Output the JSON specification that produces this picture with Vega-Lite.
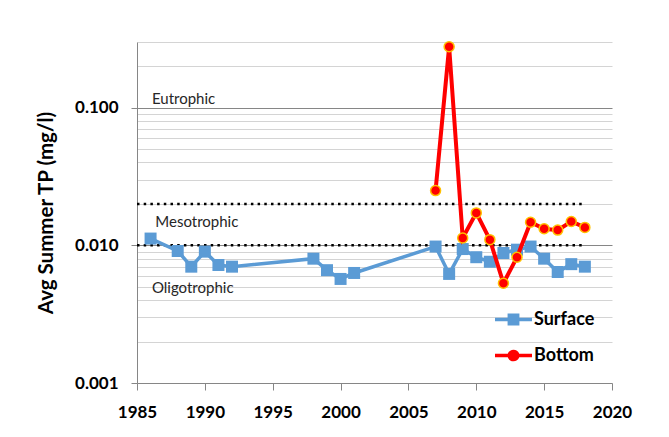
{
  "$schema": "https://vega.github.io/schema/vega-lite/v6.json",
  "width": 475,
  "height": 341,
  "autosize": {"type": "none"},
  "padding": {"left": 137, "top": 42, "right": 57, "bottom": 54},
  "background": "white",
  "config": {"view": {"stroke": null}, "font": "Lato"},
  "datasets": {
    "tp": [
      {"year": 1986, "tp": 0.0112, "series": "Surface"},
      {"year": 1988, "tp": 0.0091, "series": "Surface"},
      {"year": 1989, "tp": 0.0070, "series": "Surface"},
      {"year": 1990, "tp": 0.0090, "series": "Surface"},
      {"year": 1991, "tp": 0.0072, "series": "Surface"},
      {"year": 1992, "tp": 0.0070, "series": "Surface"},
      {"year": 1998, "tp": 0.0080, "series": "Surface"},
      {"year": 1999, "tp": 0.0066, "series": "Surface"},
      {"year": 2000, "tp": 0.0057, "series": "Surface"},
      {"year": 2001, "tp": 0.0063, "series": "Surface"},
      {"year": 2007, "tp": 0.0098, "series": "Surface"},
      {"year": 2008, "tp": 0.0062, "series": "Surface"},
      {"year": 2009, "tp": 0.0094, "series": "Surface"},
      {"year": 2010, "tp": 0.0082, "series": "Surface"},
      {"year": 2011, "tp": 0.0076, "series": "Surface"},
      {"year": 2012, "tp": 0.0088, "series": "Surface"},
      {"year": 2013, "tp": 0.0093, "series": "Surface"},
      {"year": 2014, "tp": 0.0098, "series": "Surface"},
      {"year": 2015, "tp": 0.0080, "series": "Surface"},
      {"year": 2016, "tp": 0.0064, "series": "Surface"},
      {"year": 2017, "tp": 0.0073, "series": "Surface"},
      {"year": 2018, "tp": 0.0070, "series": "Surface"},
      {"year": 2007, "tp": 0.0250, "series": "Bottom"},
      {"year": 2008, "tp": 0.2770, "series": "Bottom"},
      {"year": 2009, "tp": 0.0113, "series": "Bottom"},
      {"year": 2010, "tp": 0.0172, "series": "Bottom"},
      {"year": 2011, "tp": 0.0110, "series": "Bottom"},
      {"year": 2012, "tp": 0.0053, "series": "Bottom"},
      {"year": 2013, "tp": 0.0082, "series": "Bottom"},
      {"year": 2014, "tp": 0.0147, "series": "Bottom"},
      {"year": 2015, "tp": 0.0132, "series": "Bottom"},
      {"year": 2016, "tp": 0.0129, "series": "Bottom"},
      {"year": 2017, "tp": 0.0149, "series": "Bottom"},
      {"year": 2018, "tp": 0.0135, "series": "Bottom"}
    ],
    "bounds": [
      {"year": 1985, "year2": 2018, "tp": 0.02},
      {"year": 1985, "year2": 2018, "tp": 0.01}
    ],
    "labels": [
      {"year": 1986.1, "tp": 0.1149, "text": "Eutrophic"},
      {"year": 1986.35, "tp": 0.01487, "text": "Mesotrophic"},
      {"year": 1986.1, "tp": 0.00493, "text": "Oligotrophic"}
    ]
  },
  "encoding": {
    "x": {
      "field": "year",
      "type": "quantitative",
      "scale": {"domain": [1985, 2020], "nice": false, "zero": false},
      "axis": {
        "values": [1985, 1990, 1995, 2000, 2005, 2010, 2015, 2020],
        "format": "d",
        "grid": false,
        "title": null,
        "domainColor": "#868686",
        "domainWidth": 1,
        "tickColor": "#868686",
        "tickSize": 7,
        "labelFont": "Lato",
        "labelFontWeight": "bold",
        "labelFontSize": 17,
        "labelColor": "#000000",
        "labelPadding": 14,
        "labelFlush": false
      }
    },
    "y": {
      "field": "tp",
      "type": "quantitative",
      "scale": {"type": "log", "domain": [0.001, 0.3], "nice": false},
      "axis": {
        "values": [0.001, 0.002, 0.003, 0.004, 0.005, 0.006, 0.007, 0.008, 0.009, 0.01, 0.02, 0.03, 0.04, 0.05, 0.06, 0.07, 0.08, 0.09, 0.1, 0.2, 0.3],
        "labelExpr": "(datum.value === 0.001 || datum.value === 0.01 || datum.value === 0.1) ? format(datum.value, '.3f') : ''",
        "grid": true,
        "gridColor": {"condition": {"test": "datum.value === 0.01 || datum.value === 0.1", "value": "#868686"}, "value": "#d4d4d4"},
        "gridWidth": 1,
        "tickOpacity": {"condition": {"test": "datum.value === 0.001 || datum.value === 0.01 || datum.value === 0.1", "value": 1}, "value": 0},
        "tickColor": "#868686",
        "tickSize": 6,
        "domainColor": "#868686",
        "labelFont": "Lato",
        "labelFontWeight": "bold",
        "labelFontSize": 17,
        "labelColor": "#000000",
        "labelPadding": 13,
        "labelFlush": false,
        "labelOverlap": false,
        "title": "Avg Summer TP (mg/l)",
        "titleFont": "Lato",
        "titleFontWeight": "bold",
        "titleFontSize": 20.5,
        "titleColor": "#000000",
        "titlePadding": 18
      }
    }
  },
  "layer": [
    {
      "data": {"name": "bounds"},
      "mark": {"type": "rule", "color": "#000000", "strokeWidth": 2.5, "strokeDash": [2.5, 4.2]},
      "encoding": {"x2": {"field": "year2"}}
    },
    {
      "data": {"name": "labels"},
      "mark": {"type": "text", "align": "left", "baseline": "middle", "font": "Lato", "fontSize": 15, "color": "#262626"},
      "encoding": {"text": {"field": "text"}}
    },
    {
      "data": {"name": "tp"},
      "transform": [{"filter": "datum.series === 'Surface'"}],
      "mark": {"type": "line", "strokeWidth": 3.5},
      "encoding": {
        "color": {
          "field": "series",
          "type": "nominal",
          "scale": {"domain": ["Surface", "Bottom"], "range": ["#5B9BD5", "#FF0000"]},
          "legend": {
            "orient": "none",
            "legendX": 358,
            "legendY": 259,
            "title": null,
            "padding": 0,
            "symbolSize": 1369,
            "rowPadding": 8,
            "labelOffset": 2,
            "labelFont": "Lato",
            "labelFontWeight": "bold",
            "labelFontSize": 18,
            "labelColor": "#000000",
            "encode": {
              "symbols": {
                "update": {
                  "shape": {"signal": "datum.value === 'Surface' ? 'M-1,-0.09H-0.32V-0.32H0.32V-0.09H1V0.09H0.32V0.32H-0.32V0.09H-1Z' : 'M-1,-0.1H-0.31A0.33,0.33 0 0,1 0.31,-0.1H1V0.1H0.31A0.33,0.33 0 0,1 -0.31,0.1H-1Z'"},
                  "fill": {"signal": "datum.value === 'Surface' ? '#5B9BD5' : '#FF0000'"},
                  "stroke": {"value": "transparent"},
                  "strokeWidth": {"value": 0},
                  "opacity": {"value": 1},
                  "fillOpacity": {"value": 1}
                }
              }
            }
          }
        }
      }
    },
    {
      "data": {"name": "tp"},
      "transform": [{"filter": "datum.series === 'Surface'"}],
      "mark": {"type": "point", "shape": "square", "filled": true, "size": 144, "opacity": 1},
      "encoding": {"color": {"field": "series", "type": "nominal"}}
    },
    {
      "data": {"name": "tp"},
      "transform": [{"filter": "datum.series === 'Bottom'"}],
      "mark": {"type": "line", "strokeWidth": 4},
      "encoding": {"color": {"field": "series", "type": "nominal"}}
    },
    {
      "data": {"name": "tp"},
      "transform": [{"filter": "datum.series === 'Bottom'"}],
      "mark": {"type": "point", "shape": "circle", "filled": true, "size": 100, "opacity": 1, "stroke": "#FFC000", "strokeWidth": 1.5},
      "encoding": {"color": {"field": "series", "type": "nominal"}}
    }
  ]
}
